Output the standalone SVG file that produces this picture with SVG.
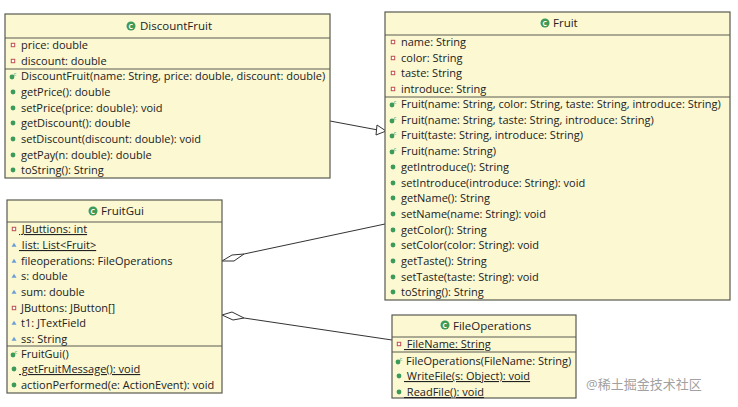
<svg xmlns="http://www.w3.org/2000/svg" width="738" height="407" viewBox="0 0 738 407">
<style>
.box{fill:#fbf8d2;stroke:#5a5a50;stroke-width:1.2}
.ln{stroke:#5a5a50;stroke-width:1}
text{font-family:"Open Sans","DejaVu Sans",sans-serif;font-size:11px;fill:#222}
.t{font-size:11.5px}
.u{text-decoration:underline}
.pub{fill:#3c9a5a}
.pri{fill:#fff;stroke:#c0504d;stroke-width:1}
.pkg{fill:#6d9ed6}
.con{stroke:#333;stroke-width:1;fill:none}
</style>
<defs>
<g id="cls"><circle r="4.5" fill="#3c9a5a"/><text x="-2.6" y="3" style="font-size:7px;fill:#fff;font-weight:bold">C</text></g>
<circle id="m" r="2.4" class="pub"/>
<rect id="p" x="-1.7" y="-1.7" width="3.4" height="3.4" class="pri"/>
<path id="k" d="M-2.5,1.8 L0,-2.2 L2.5,1.8 Z" class="pkg"/>
<g id="c"><circle cx="-1" cy="1" r="2.4" fill="#3c9a5a"/><text x="0.5" y="-0.5" style="font-size:6px;fill:#3c9a5a">c</text></g>
</defs>
<g id="connectors">
<polyline class="con" points="330,121 378,130"/>
<path d="M377,125 L386,131 L376,135 Z" fill="#fff" stroke="#333"/>
<polyline class="con" points="244,254 385,224"/>
<path d="M222,261 L232,255 L244,254 L234,261 Z" fill="#fff" stroke="#333"/>
<polyline class="con" points="244,318 392,340"/>
<path d="M222,315 L232,312 L244,318 L233,320 Z" fill="#fff" stroke="#333"/>
</g>
<g id="DiscountFruit">
<rect class="box" x="5" y="14" width="325" height="164"/>
<line class="ln" x1="5" y1="38" x2="330" y2="38"/><line class="ln" x1="5" y1="69" x2="330" y2="69"/>
<use href="#cls" x="131" y="26"/><text class="t" x="140" y="30">DiscountFruit</text>
<use href="#p" x="13" y="45"/><text x="21" y="49">price: double</text>
<use href="#p" x="13" y="61"/><text x="21" y="65">discount: double</text>
<use href="#c" x="13" y="76"/><text x="21" y="80">DiscountFruit(name: String, price: double, discount: double)</text>
<use href="#m" x="13" y="92"/><text x="21" y="96">getPrice(): double</text>
<use href="#m" x="13" y="108"/><text x="21" y="112">setPrice(price: double): void</text>
<use href="#m" x="13" y="123"/><text x="21" y="127">getDiscount(): double</text>
<use href="#m" x="13" y="139"/><text x="21" y="143">setDiscount(discount: double): void</text>
<use href="#m" x="13" y="155"/><text x="21" y="159">getPay(n: double): double</text>
<use href="#m" x="13" y="170"/><text x="21" y="174">toString(): String</text>
</g>
<g id="Fruit">
<rect class="box" x="385" y="12" width="345" height="288"/>
<line class="ln" x1="385" y1="35" x2="730" y2="35"/><line class="ln" x1="385" y1="97" x2="730" y2="97"/>
<use href="#cls" x="545" y="23"/><text class="t" x="553" y="27">Fruit</text>
<use href="#p" x="393" y="42"/><text x="401" y="46">name: String</text>
<use href="#p" x="393" y="58"/><text x="401" y="62">color: String</text>
<use href="#p" x="393" y="73"/><text x="401" y="77">taste: String</text>
<use href="#p" x="393" y="89"/><text x="401" y="93">introduce: String</text>
<use href="#c" x="393" y="104"/><text x="401" y="108">Fruit(name: String, color: String, taste: String, introduce: String)</text>
<use href="#c" x="393" y="120"/><text x="401" y="124">Fruit(name: String, taste: String, introduce: String)</text>
<use href="#c" x="393" y="135"/><text x="401" y="139">Fruit(taste: String, introduce: String)</text>
<use href="#c" x="393" y="151"/><text x="401" y="155">Fruit(name: String)</text>
<use href="#m" x="393" y="167"/><text x="401" y="171">getIntroduce(): String</text>
<use href="#m" x="393" y="183"/><text x="401" y="187">setIntroduce(introduce: String): void</text>
<use href="#m" x="393" y="198"/><text x="401" y="202">getName(): String</text>
<use href="#m" x="393" y="214"/><text x="401" y="218">setName(name: String): void</text>
<use href="#m" x="393" y="230"/><text x="401" y="234">getColor(): String</text>
<use href="#m" x="393" y="245"/><text x="401" y="249">setColor(color: String): void</text>
<use href="#m" x="393" y="261"/><text x="401" y="265">getTaste(): String</text>
<use href="#m" x="393" y="277"/><text x="401" y="281">setTaste(taste: String): void</text>
<use href="#m" x="393" y="292"/><text x="401" y="296">toString(): String</text>
</g>
<g id="FruitGui">
<rect class="box" x="7" y="200" width="215" height="193"/>
<line class="ln" x1="7" y1="222" x2="222" y2="222"/><line class="ln" x1="7" y1="346" x2="222" y2="346"/>
<use href="#cls" x="93" y="211"/><text class="t" x="101" y="215">FruitGui</text>
<use href="#p" x="14" y="229"/><text class="u" x="19" y="233" xml:space="preserve"> JButtions: int</text>
<use href="#k" x="14" y="245"/><text class="u" x="19" y="249" xml:space="preserve"> list: List&lt;Fruit&gt;</text>
<use href="#k" x="14" y="261"/><text x="21" y="265">fileoperations: FileOperations</text>
<use href="#k" x="14" y="276"/><text x="21" y="280">s: double</text>
<use href="#k" x="14" y="292"/><text x="21" y="296">sum: double</text>
<use href="#p" x="14" y="308"/><text x="21" y="312">JButtons: JButton[]</text>
<use href="#k" x="14" y="323"/><text x="21" y="327">t1: JTextField</text>
<use href="#k" x="14" y="339"/><text x="21" y="343">ss: String</text>
<use href="#c" x="14" y="354"/><text x="21" y="358">FruitGui()</text>
<use href="#m" x="14" y="369"/><text class="u" x="19" y="373" xml:space="preserve"> getFruitMessage(): void</text>
<use href="#m" x="14" y="385"/><text x="21" y="389">actionPerformed(e: ActionEvent): void</text>
</g>
<g id="FileOperations">
<rect class="box" x="392" y="315" width="184" height="83"/>
<line class="ln" x1="392" y1="337" x2="576" y2="337"/><line class="ln" x1="392" y1="352" x2="576" y2="352"/>
<use href="#cls" x="445" y="325"/><text class="t" x="453" y="330">FileOperations</text>
<use href="#p" x="399" y="344"/><text class="u" x="404" y="348" xml:space="preserve"> FileName: String</text>
<use href="#c" x="399" y="361"/><text x="406" y="365">FileOperations(FileName: String)</text>
<use href="#m" x="399" y="376"/><text class="u" x="404" y="380" xml:space="preserve"> WriteFile(s: Object): void</text>
<use href="#m" x="399" y="392"/><text class="u" x="404" y="396" xml:space="preserve"> ReadFile(): void</text>
</g>
<text x="586" y="389" style="font-family:'Open Sans','Noto Sans CJK SC',sans-serif;font-size:13px;fill:#8a8a8a;opacity:0.8">@稀土掘金技术社区</text>
</svg>
